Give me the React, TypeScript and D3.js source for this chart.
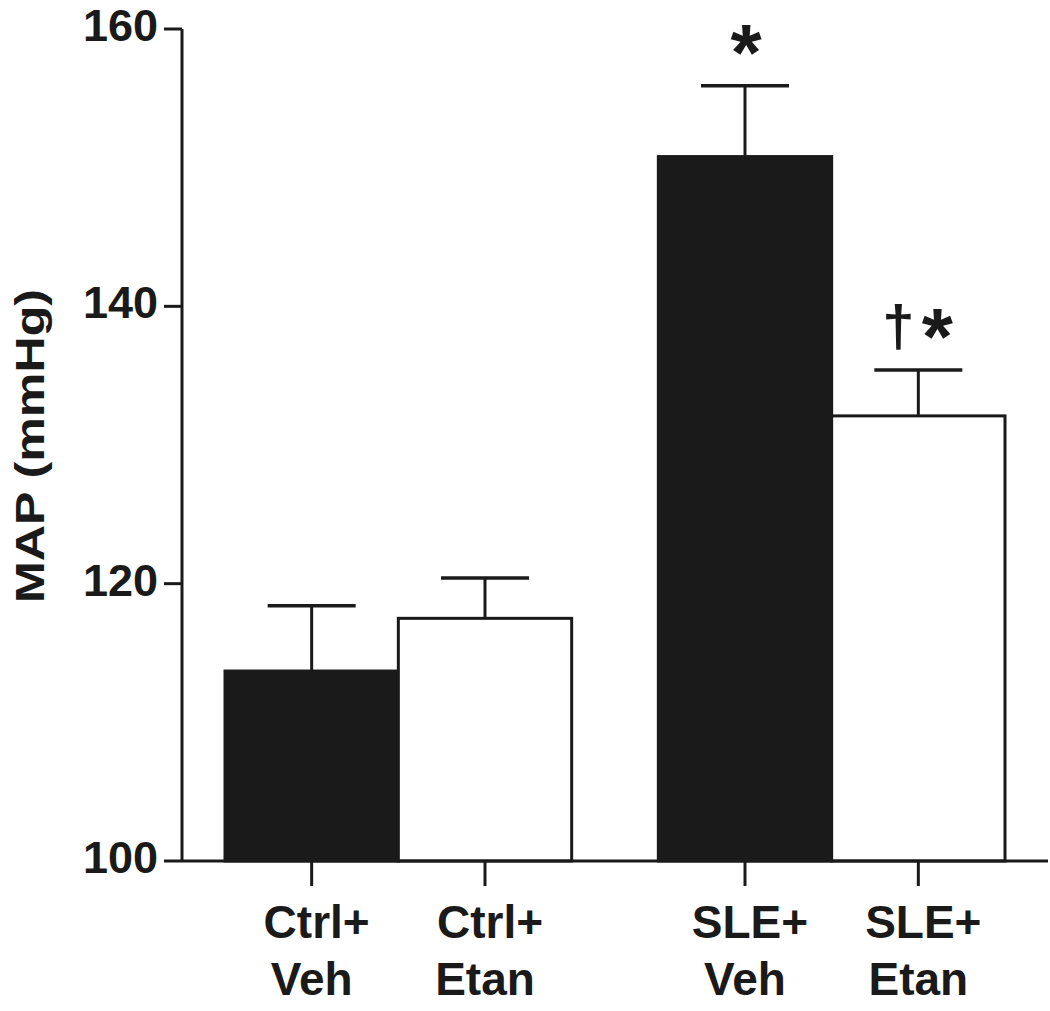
import { useRef, useEffect } from "react";
import * as d3 from "d3";

const groups = ["Ctrl", "SLE"];
const treatments = ["Veh", "Etan"];
const labels = [
  ["Ctrl+", "Veh"],
  ["Ctrl+", "Etan"],
  ["SLE+", "Veh"],
  ["SLE+", "Etan"],
];
const means = [113.7, 117.5, 150.8, 132.1];
const sems = [4.7, 2.9, 5.1, 3.3];
const marks = ["", "", "*", "†*"];
const yTicks = [100, 120, 140, 160];

const FONT = "'Liberation Sans', Arial, Helvetica, sans-serif";
const INK = "#1a1a1a";

export default function App() {
  const svgRef = useRef<SVGSVGElement>(null);

  useEffect(() => {
    if (!svgRef.current) return;
    const width = 1050;
    const height = 1011;
    const svg = d3.select(svgRef.current);
    svg.selectAll("*").remove();
    svg.attr("width", width).attr("height", height);

    const axisX = 182;
    const y = d3.scaleLinear().domain([100, 160]).range([861, 29]);

    const outer = d3
      .scaleBand<string>()
      .domain(groups)
      .range([225, 1005])
      .paddingInner(0.2)
      .paddingOuter(0);
    const inner = d3
      .scaleBand<string>()
      .domain(treatments)
      .range([0, outer.bandwidth()]);

    const bars = means.map((m, i) => {
      const g = groups[Math.floor(i / 2)];
      const t = treatments[i % 2];
      const x0 = (outer(g) ?? 0) + (inner(t) ?? 0);
      return { i, m, se: sems[i], x0, w: inner.bandwidth(), cx: x0 + inner.bandwidth() / 2, t };
    });

    // bars
    bars.forEach((b) => {
      svg
        .append("rect")
        .attr("x", b.x0)
        .attr("y", y(b.m))
        .attr("width", b.w)
        .attr("height", y(100) - y(b.m))
        .attr("fill", b.t === "Veh" ? INK : "#ffffff")
        .attr("stroke", INK)
        .attr("stroke-width", 3);
    });

    // error bars (upper only)
    bars.forEach((b) => {
      const top = y(b.m + b.se);
      svg
        .append("line")
        .attr("x1", b.cx)
        .attr("x2", b.cx)
        .attr("y1", y(b.m))
        .attr("y2", top)
        .attr("stroke", INK)
        .attr("stroke-width", 3);
      svg
        .append("line")
        .attr("x1", b.cx - 44)
        .attr("x2", b.cx + 44)
        .attr("y1", top)
        .attr("y2", top)
        .attr("stroke", INK)
        .attr("stroke-width", 3.5);
    });

    // significance marks
    const star = (x: number, yy: number) =>
      svg
        .append("text")
        .attr("x", x)
        .attr("y", yy)
        .attr("text-anchor", "middle")
        .attr("font-family", FONT)
        .attr("font-weight", "bold")
        .attr("font-size", 80)
        .attr("fill", INK)
        .text("*");

    bars.forEach((b) => {
      const top = y(b.m + b.se);
      const mk = marks[b.i];
      if (!mk) return;
      if (mk === "*") {
        star(b.cx + 1, top - 6);
      } else {
        svg
          .append("text")
          .attr("x", b.cx - 20)
          .attr("y", top - 24)
          .attr("text-anchor", "middle")
          .attr("font-family", FONT)
          .attr("font-weight", "bold")
          .attr("font-size", 58)
          .attr("fill", INK)
          .text("†");
        star(b.cx + 19, top - 6);
      }
    });

    // y axis
    svg
      .append("line")
      .attr("x1", axisX)
      .attr("x2", axisX)
      .attr("y1", y(160))
      .attr("y2", y(100))
      .attr("stroke", INK)
      .attr("stroke-width", 3);
    const yt = svg.append("g");
    yTicks.forEach((v) => {
      yt.append("line")
        .attr("x1", 164)
        .attr("x2", axisX)
        .attr("y1", y(v))
        .attr("y2", y(v))
        .attr("stroke", INK)
        .attr("stroke-width", 3);
      yt.append("text")
        .attr("x", 158)
        .attr("y", y(v) + 12)
        .attr("text-anchor", "end")
        .attr("font-family", FONT)
        .attr("font-weight", "bold")
        .attr("font-size", 45)
        .attr("fill", INK)
        .text(String(v));
    });

    // x axis
    svg
      .append("line")
      .attr("x1", axisX)
      .attr("x2", 1048)
      .attr("y1", y(100))
      .attr("y2", y(100))
      .attr("stroke", INK)
      .attr("stroke-width", 3);
    bars.forEach((b) => {
      svg
        .append("line")
        .attr("x1", b.cx)
        .attr("x2", b.cx)
        .attr("y1", y(100))
        .attr("y2", y(100) + 25)
        .attr("stroke", INK)
        .attr("stroke-width", 3);
      labels[b.i].forEach((s, k) => {
        svg
          .append("text")
          .attr("x", b.cx + (k === 0 ? 5 : 0))
          .attr("y", 938 + k * 57)
          .attr("text-anchor", "middle")
          .attr("font-family", FONT)
          .attr("font-weight", "bold")
          .attr("font-size", 46)
          .attr("fill", INK)
          .text(s);
      });
    });

    // y label
    svg
      .append("text")
      .attr("transform", `translate(44,446) rotate(-90)`)
      .attr("text-anchor", "middle")
      .attr("font-family", FONT)
      .attr("font-weight", "bold")
      .attr("font-size", 40)
      .attr("fill", INK)
      .attr("textLength", 314)
      .attr("lengthAdjust", "spacingAndGlyphs")
      .text("MAP (mmHg)");
  }, []);

  return (
    <svg
      ref={svgRef}
      style={{ position: "absolute", left: 0, top: 0, background: "#fff" }}
    />
  );
}
